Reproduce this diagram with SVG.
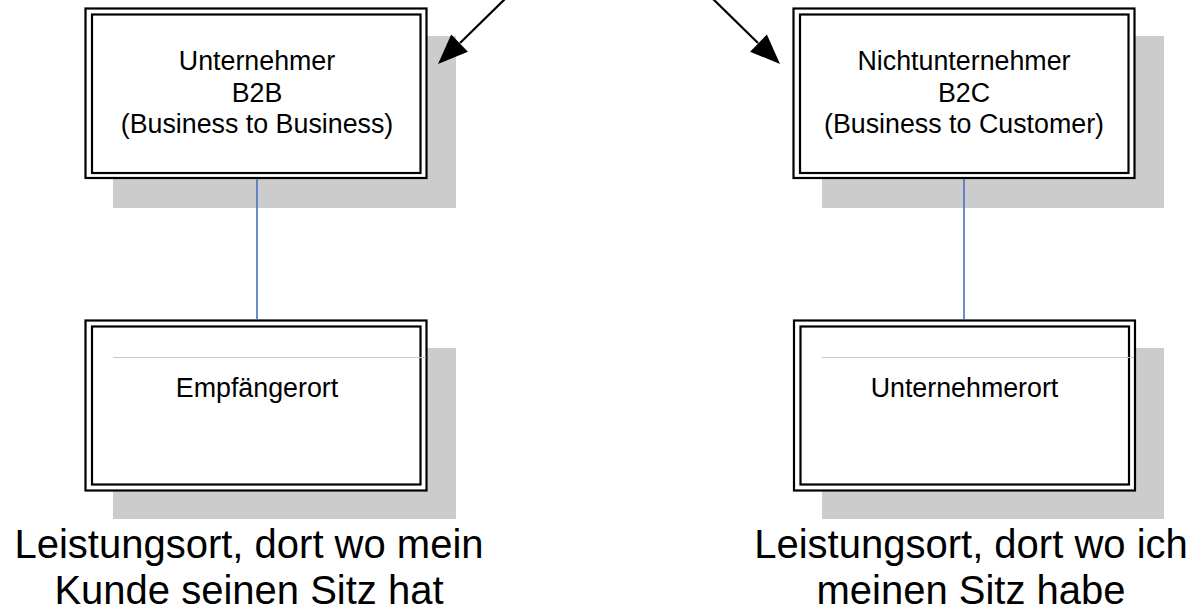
<svg xmlns="http://www.w3.org/2000/svg" width="1194" height="611" viewBox="0 0 1194 611">
<defs>
<style>
.shadow{fill:#cccccc;stroke:none}
.outer{fill:#ffffff;stroke:#000000;stroke-width:2.2}
.inner{fill:none;stroke:#000000;stroke-width:2.2}
.sep{stroke:#c8c8c8;stroke-width:1}
.lbl{font-family:"Liberation Sans",Arial,sans-serif;font-size:26.8px;fill:#000000;text-anchor:middle}
.big{font-family:"Liberation Sans",Arial,sans-serif;font-size:40px;fill:#000000;text-anchor:middle}
.link{stroke:#4472c4;stroke-width:1.6;fill:none}
.arrow{stroke:#000000;stroke-width:2.2;fill:none}
.head{fill:#000000;stroke:none}
</style>
</defs>
<rect width="1194" height="611" fill="#ffffff"/>

<g id="b2b">
<rect class="shadow" x="113" y="36" width="343" height="172"/>
<rect class="outer" x="85.5" y="8.5" width="341" height="169.5"/>
<rect class="inner" x="92" y="14.5" width="328.5" height="158.5"/>
<text class="lbl" x="257" y="70">Unternehmer</text>
<text class="lbl" x="257" y="101.5">B2B</text>
<text class="lbl" x="257" y="132.5">(Business to Business)</text>
</g>

<g id="b2c">
<rect class="shadow" x="822" y="36" width="342" height="172"/>
<rect class="outer" x="793.5" y="8.5" width="341" height="169.5"/>
<rect class="inner" x="800" y="14.5" width="328.5" height="158.5"/>
<text class="lbl" x="964" y="70">Nichtunternehmer</text>
<text class="lbl" x="964" y="101.5">B2C</text>
<text class="lbl" x="964" y="132.5">(Business to Customer)</text>
</g>

<g id="empfaengerort">
<rect class="shadow" x="113" y="348" width="343" height="171"/>
<rect class="outer" x="85.5" y="320.5" width="341" height="170"/>
<rect class="inner" x="92" y="326.5" width="328.5" height="158"/>
<line class="sep" x1="113" y1="357.5" x2="426" y2="357.5"/>
<text class="lbl" x="257" y="397">Empfängerort</text>
</g>

<g id="unternehmerort">
<rect class="shadow" x="822" y="348" width="342" height="171"/>
<rect class="outer" x="794" y="320.5" width="341" height="170"/>
<rect class="inner" x="800.5" y="326.5" width="328.5" height="158"/>
<line class="sep" x1="822" y1="357.5" x2="1134" y2="357.5"/>
<text class="lbl" x="964.5" y="397">Unternehmerort</text>
</g>

<g id="connectors">
<line class="link" x1="257" y1="179" x2="257" y2="319.5"/>
<line class="link" x1="964" y1="179" x2="964" y2="319.5"/>
<line class="arrow" x1="506" y1="-2" x2="460" y2="43"/>
<polygon class="head" points="438,64 467.9,51.7 451.2,34.5"/>
<line class="arrow" x1="712" y1="-2" x2="758" y2="43"/>
<polygon class="head" points="780,64 750.1,51.7 766.9,34.5"/>
</g>

<g id="note-left">
<text class="big" x="249" y="558">Leistungsort, dort wo mein</text>
<text class="big" x="249" y="604">Kunde seinen Sitz hat</text>
</g>

<g id="note-right">
<text class="big" x="971" y="558">Leistungsort, dort wo ich</text>
<text class="big" x="971" y="604">meinen Sitz habe</text>
</g>
</svg>
